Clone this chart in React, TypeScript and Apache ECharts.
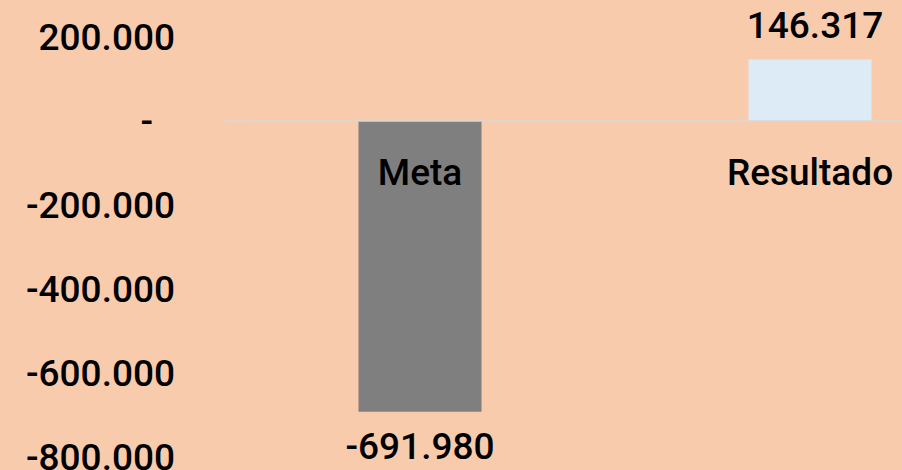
import React, { useEffect, useRef } from "react";
import * as echarts from "echarts";

const categories = ["Meta", "Resultado"];
const values = [-691980, 146317];
const barColors = ["#7F7F7F", "#DDEBF7"];
const yMin = -800000;
const yMax = 200000;
const yInterval = 200000;

function fmt(v: number): string {
  if (v === 0) return "-";
  const s = Math.abs(Math.round(v)).toString().replace(/\B(?=(\d{3})+(?!\d))/g, ".");
  return (v < 0 ? "-" : "") + s;
}

const FONT = "Roboto";
const textStyle = { color: "#000", fontFamily: FONT, fontSize: 37, fontWeight: 500 };

export default function App() {
  const ref = useRef<HTMLDivElement>(null);
  useEffect(() => {
    document.body.style.margin = "0";
    const chart = echarts.init(ref.current!, null, { renderer: "svg" });
    chart.setOption({
      animation: false,
      backgroundColor: "#F8CBAD",
      grid: { left: 225, top: 37, bottom: 13, right: -103, containLabel: false, outerBoundsMode: "none" },
      xAxis: {
        type: "category",
        data: categories,
        axisLine: { onZero: true, lineStyle: { color: "#D9D9D9", width: 1.5 } },
        axisTick: { show: false },
        axisLabel: { show: false },
        z: 10,
      },
      yAxis: {
        type: "value",
        min: yMin,
        max: yMax,
        interval: yInterval,
        splitLine: { show: false },
        axisLine: { show: false },
        axisTick: { show: false },
        axisLabel: {
          ...textStyle,
          margin: 50,
          formatter: (v: number) => (v === 0 ? "{d|-}" : fmt(v)),
          rich: {
            d: { ...textStyle, padding: [0, 22, 0, 0] },
          },
        },
      },
      series: [
        {
          type: "bar",
          barWidth: 123,
          data: values.map((v, i) => ({
            value: v,
            itemStyle: { color: barColors[i] },
            label: { position: v < 0 ? "bottom" : "top", offset: v < 0 ? [0, 0] : [5, 0] },
          })),
          label: {
            show: true,
            ...textStyle,
            distance: 16,
            formatter: (p: any) => fmt(p.value),
          },
        },
        {
          type: "scatter",
          symbolSize: 0,
          silent: true,
          z: 20,
          itemStyle: { opacity: 1 },
          data: categories.map((c) => [c, 0]),
          label: {
            show: true,
            position: "bottom",
            distance: 33,
            ...textStyle,
            formatter: (p: any) => p.name || categories[p.dataIndex],
          },
        },
      ],
    });
    return () => chart.dispose();
  }, []);
  return <div ref={ref} style={{ width: 902, height: 470, position: "absolute", left: 0, top: 0 }} />;
}
